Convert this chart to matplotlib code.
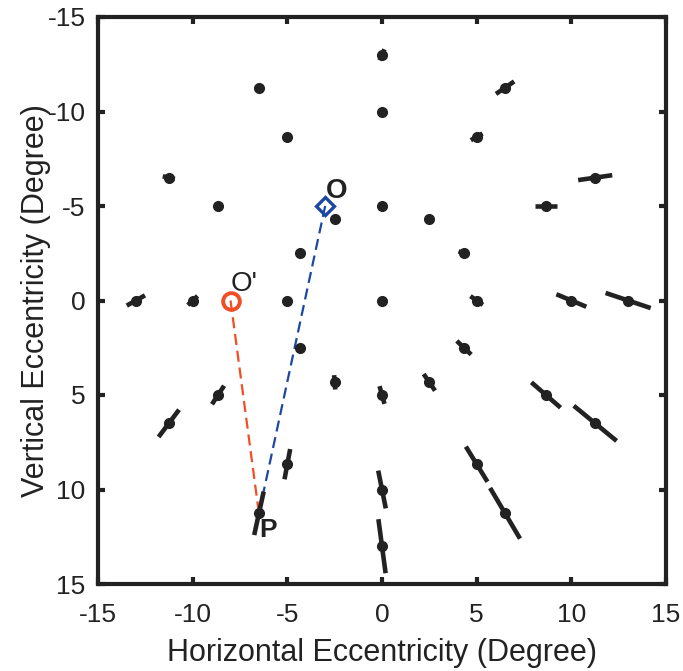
import matplotlib
matplotlib.use("Agg")
import matplotlib.pyplot as plt
import numpy as np

plt.rcParams["font.family"] = ["Liberation Sans", "DejaVu Sans"]
plt.rcParams["axes.unicode_minus"] = False

# sampling positions (degrees) and the half-length vector of each error bar
pos_x = [0.0,
         0.0, 2.5, 4.33, 5.0, 4.33, 2.5, 0.0, -2.5, -4.33, -5.0, -4.33, -2.5,
         0.0, 5.0, 8.66, 10.0, 8.66, 5.0, 0.0, -5.0, -8.66, -10.0, -8.66, -5.0,
         0.0, 6.5, 11.26, 13.0, 11.26, 6.5, 0.0, -6.5, -11.26, -13.0, -11.26, -6.5]
pos_y = [0.0,
         -5.0, -4.33, -2.5, 0.0, 2.5, 4.33, 5.0, 4.33, 2.5, 0.0, -2.5, -4.33,
         -10.0, -8.66, -5.0, 0.0, 5.0, 8.66, 10.0, 8.66, 5.0, 0.0, -5.0, -8.66,
         -13.0, -11.26, -6.5, 0.0, 6.5, 11.26, 13.0, 11.26, 6.5, 0.0, -6.5, -11.26]
half_dx = [0.0,
           0.0, 0.05, 0.29, 0.33, 0.38, 0.30, 0.13, 0.03, 0.05, 0.0, 0.0, 0.0,
           0.0, 0.31, 0.59, 0.79, 0.77, 0.57, 0.20, 0.15, 0.32, 0.26, 0.0, 0.0,
           0.13, 0.48, 0.90, 1.19, 1.13, 0.79, 0.19, 0.25, 0.54, 0.48, 0.32, 0.12]
half_dy = [0.0,
           0.0, 0.0, 0.10, 0.23, 0.36, 0.44, 0.47, 0.38, 0.10, 0.0, 0.0, 0.0,
           0.0, -0.18, 0.0, 0.33, 0.67, 0.93, 1.00, -0.80, -0.49, -0.24, 0.0, 0.0,
           -0.29, -0.33, -0.13, 0.40, 0.93, 1.34, 1.43, -1.15, -0.72, -0.27, 0.07, 0.08]

o_pt = (-3.0, -5.0)        # O
o_prime_pt = (-8.0, 0.0)   # O'
p_pt = (-6.5, 11.26)       # P

ticks = [-15, -10, -5, 0, 5, 10, 15]

ink = "#222222"
blue = "#1c48a3"
red = "#f04e25"

fig = plt.figure(figsize=(6.83, 6.71), dpi=100)
ax = fig.add_axes([98 / 683, 1 - 584 / 671, 568 / 683, 567 / 671])

# dashed lines O -> P and O' -> P
ax.plot([o_pt[0], p_pt[0]], [o_pt[1], p_pt[1]], color=blue, lw=1.6,
        linestyle=(0, (5, 2.6)), zorder=1)
ax.plot([o_prime_pt[0], p_pt[0]], [o_prime_pt[1], p_pt[1]], color=red, lw=1.6,
        linestyle=(0, (5, 2.6)), zorder=1)

# error bars through each sampling point
for x, y, dx, dy in zip(pos_x, pos_y, half_dx, half_dy):
    if dx == 0 and dy == 0:
        continue
    ax.plot([x - dx, x + dx], [y - dy, y + dy], color=ink, lw=3.3,
            solid_capstyle="butt", zorder=2)
ax.plot(pos_x, pos_y, "o", color=ink, ms=7, zorder=3)

ax.plot(*o_pt, "D", ms=9.5, mfc="none", mec=blue, mew=2.4, zorder=4)
ax.plot(*o_prime_pt, "o", ms=12, mfc="none", mec=red, mew=2.8, zorder=4)

ax.text(-2.4, -5.8, "O", fontsize=20, fontweight="bold", color=ink,
        ha="center", va="center")
ax.text(-7.3, -0.85, "O'", fontsize=20, color=ink, ha="center", va="center")
ax.text(-6.0, 12.15, "P", fontsize=19, fontweight="bold", color=ink,
        ha="center", va="center")

ax.set_xlim(-15, 15)
ax.set_ylim(15, -15)
ax.set_xticks(ticks)
ax.set_yticks(ticks)
ax.tick_params(direction="in", length=5, width=3, top=True, right=True,
               labelsize=19, colors=ink, labelcolor=ink)
ax.tick_params(axis="x", pad=14)
ax.tick_params(axis="y", pad=9)
for s in ax.spines.values():
    s.set_linewidth(3)
    s.set_color(ink)

ax.set_xlabel("Horizontal Eccentricity (Degree)", fontsize=22, color=ink)
ax.set_ylabel("Vertical Eccentricity (Degree)", fontsize=22, color=ink)
ax.xaxis.label.set_va("center")
ax.yaxis.label.set_va("center")
ax.xaxis.set_label_coords(0.5, -0.122)
ax.yaxis.set_label_coords(-0.11, 0.5)

fig.savefig("out.png", dpi=100)
